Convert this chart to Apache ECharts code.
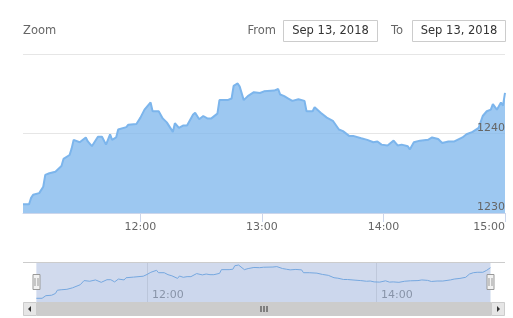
<!DOCTYPE html>
<html><head><meta charset="utf-8">
<script src="https://cdn.jsdelivr.net/npm/echarts@6/dist/echarts.min.js"></script>
<style>html,body{margin:0;padding:0;background:#fff}#c{width:513px;height:318px}</style>
</head><body><div id="c"></div>
<script>
// minutes since midnight, Sep 13, 2018
const times = [662,665,666,667,670,672,673,675,678,681,682,685,686,687,690,693,694,696,699,701,703,705,706,708,709,713,714,718,720,722,725,726,729,731,733,736,737,739,741,743,746,747,749,751,753,755,758,759,763,765,766,768,769,771,773,776,779,781,786,788,789,791,793,795,798,801,802,805,806,809,812,815,818,820,823,825,829,832,835,837,839,842,845,847,849,852,853,855,858,862,864,867,869,872,875,879,881,884,887,889,891,893,894,896,898,899,900];
const values = [1231.1,1231.1,1231.9,1232.3,1232.5,1233.3,1234.8,1235.0,1235.2,1235.9,1236.8,1237.3,1238.1,1239.2,1238.9,1239.5,1239.0,1238.4,1239.6,1239.6,1238.6,1239.9,1239.2,1239.5,1240.5,1240.8,1241.1,1241.2,1242.0,1243.0,1243.9,1242.8,1242.8,1241.9,1241.4,1240.2,1241.3,1240.7,1241.0,1241.0,1242.4,1242.6,1241.8,1242.2,1241.9,1241.9,1242.5,1244.2,1244.2,1244.4,1246.0,1246.3,1245.9,1244.2,1244.7,1245.2,1245.1,1245.3,1245.4,1245.6,1244.9,1244.7,1244.4,1244.1,1244.3,1244.1,1242.8,1242.8,1243.3,1242.6,1242.0,1241.6,1240.5,1240.3,1239.7,1239.7,1239.4,1239.2,1238.9,1239.0,1238.6,1238.5,1239.1,1238.5,1238.6,1238.4,1238.0,1238.9,1239.1,1239.2,1239.5,1239.3,1238.8,1239.0,1239.0,1239.5,1239.9,1240.2,1240.7,1242.2,1242.8,1243.0,1243.7,1243.0,1243.9,1243.5,1245.1];
const xTickValues = [720,780,840,900];
const xTickLabels = ['12:00','13:00','14:00','15:00'];
const navTickValues = [720,840];
const navTickLabels = ['12:00','14:00'];
const yTicks = [1230,1240,1250];
const yTickLabels = ['1230','1240','1250'];
const rangeFrom = 'Sep 13, 2018';
const rangeTo = 'Sep 13, 2018';
const zoomLabel = 'Zoom', fromLabel = 'From', toLabel = 'To';
const FONT = '"DejaVu Sans", sans-serif';

const data = times.map((t,i)=>[t, values[i]]);
const fmt = (vals, labels) => v => { const i = vals.indexOf(Math.round(v)); return i>=0 ? labels[i] : ''; };

const yBase = {type:'value',gridIndex:0,position:'right',min:yTicks[0],max:yTicks[yTicks.length-1],interval:10,
  axisLine:{show:false},axisTick:{show:false}};

const chart = echarts.init(document.getElementById('c'), null, {renderer:'canvas'});
chart.setOption({
  animation:false,
  grid:[{left:23,right:8,top:54,height:159},{left:23,right:8,top:262,height:40}],
  xAxis:[
    {type:'value',gridIndex:0,min:times[0],max:times[times.length-1],
     axisLine:{show:true,lineStyle:{color:'#ccd6eb'}},
     axisTick:{show:true,length:9,lineStyle:{color:'#ccd6eb'},customValues:xTickValues},
     axisLabel:{customValues:xTickValues,formatter:fmt(xTickValues,xTickLabels),color:'#666',fontSize:11,fontFamily:FONT,margin:9,alignMaxLabel:'right'},
     splitLine:{show:false}},
    {type:'value',gridIndex:1,min:655,max:907.6,
     axisLine:{show:false},
     axisTick:{show:false,customValues:navTickValues},
     axisLabel:{inside:true,customValues:navTickValues,formatter:fmt(navTickValues,navTickLabels),align:'left',color:'#999',fontSize:11,fontFamily:FONT,margin:1,padding:[0,0,0,5]},
     splitLine:{show:true,lineStyle:{color:'#e6e6e6'}}}
  ],
  yAxis:[
    Object.assign({}, yBase, {axisLabel:{show:false}, splitLine:{show:true,lineStyle:{color:'#e6e6e6'}}}),
    {type:'value',gridIndex:1,min:1229.4,max:1247.7,show:false},
    Object.assign({}, yBase, {z:10, splitLine:{show:false},
     axisLabel:{inside:true,showMaxLabel:false,margin:0,verticalAlign:'bottom',padding:[0,0,0,0],color:'#666',fontSize:11,fontFamily:FONT,
       formatter:fmt(yTicks,yTickLabels)}})
  ],
  series:[
    {type:'line',xAxisIndex:0,yAxisIndex:0,data:data,showSymbol:false,
     lineStyle:{color:'#7cb5ec',width:2},
     areaStyle:{color:'#7cb5ec',opacity:0.75,origin:'start'}},
    {type:'line',xAxisIndex:1,yAxisIndex:1,data:data,showSymbol:false,
     lineStyle:{color:'#75a7df',width:1},
     areaStyle:{color:'#7cb5ec',opacity:0.05,origin:'start'},
     markArea:{silent:true,itemStyle:{color:'rgba(102,133,194,0.3)'},
       data:[[{xAxis:times[0]},{xAxis:times[times.length-1]}]]}}
  ]
});

const xL = Math.round(chart.convertToPixel({xAxisIndex:1}, times[0]));
const xR = Math.round(chart.convertToPixel({xAxisIndex:1}, times[times.length-1]));
const gl = 23, gr = 505, sy = 302, sh = 14;
function handle(cx){
  return [
    {type:'rect',shape:{x:cx-3.5,y:274.5,width:7,height:15},style:{fill:'#f2f2f2',stroke:'#999',lineWidth:1},z:100},
    {type:'line',shape:{x1:cx-1.5,y1:278,x2:cx-1.5,y2:286},style:{stroke:'#999',lineWidth:1},z:101},
    {type:'line',shape:{x1:cx+1.5,y1:278,x2:cx+1.5,y2:286},style:{stroke:'#999',lineWidth:1},z:101}
  ];
}
const mid = (gl+sh+gr-sh)/2;
const g = [
  {type:'line',shape:{x1:gl,y1:262.5,x2:gr,y2:262.5},style:{stroke:'#ccc',lineWidth:1},z:100},
  {type:'rect',shape:{x:gl,y:sy,width:gr-gl,height:sh},style:{fill:'#f2f2f2'},z:100},
  {type:'rect',shape:{x:gl+sh,y:sy,width:gr-gl-2*sh,height:sh},style:{fill:'#cccccc'},z:101},
  {type:'rect',shape:{x:gl+0.5,y:sy+0.5,width:sh-1,height:sh-1},style:{fill:'#e6e6e6',stroke:'#ccc',lineWidth:1},z:101},
  {type:'rect',shape:{x:gr-sh+0.5,y:sy+0.5,width:sh-1,height:sh-1},style:{fill:'#e6e6e6',stroke:'#ccc',lineWidth:1},z:101},
  {type:'polygon',shape:{points:[[gl+8,sy+4],[gl+8,sy+10],[gl+5,sy+7]]},style:{fill:'#333'},z:102},
  {type:'polygon',shape:{points:[[gr-8,sy+4],[gr-8,sy+10],[gr-5,sy+7]]},style:{fill:'#333'},z:102},
  {type:'line',shape:{x1:mid-3,y1:sy+4,x2:mid-3,y2:sy+10},style:{stroke:'#333',lineWidth:1},z:102},
  {type:'line',shape:{x1:mid,y1:sy+4,x2:mid,y2:sy+10},style:{stroke:'#333',lineWidth:1},z:102},
  {type:'line',shape:{x1:mid+3,y1:sy+4,x2:mid+3,y2:sy+10},style:{stroke:'#333',lineWidth:1},z:102},
  ...handle(xL+0.5), ...handle(xR+0.5),
  {type:'text',x:23,y:31,style:{text:zoomLabel,fill:'#666',fontSize:11.5,fontFamily:FONT,textVerticalAlign:'middle'},z:100},
  {type:'text',x:276,y:31,style:{text:fromLabel,fill:'#666',fontSize:11.5,fontFamily:FONT,textAlign:'right',textVerticalAlign:'middle'},z:100},
  {type:'rect',shape:{x:283.5,y:20.5,width:94,height:21},style:{fill:'#fff',stroke:'#ccc',lineWidth:1},z:100},
  {type:'text',x:330.5,y:31,style:{text:rangeFrom,fill:'#333',fontSize:11.5,fontFamily:FONT,textAlign:'center',textVerticalAlign:'middle'},z:101},
  {type:'text',x:403,y:31,style:{text:toLabel,fill:'#666',fontSize:11.5,fontFamily:FONT,textAlign:'right',textVerticalAlign:'middle'},z:100},
  {type:'rect',shape:{x:412.5,y:20.5,width:93,height:21},style:{fill:'#fff',stroke:'#ccc',lineWidth:1},z:100},
  {type:'text',x:459,y:31,style:{text:rangeTo,fill:'#333',fontSize:11.5,fontFamily:FONT,textAlign:'center',textVerticalAlign:'middle'},z:101}
];
chart.setOption({graphic:g});
</script>
</body></html>
